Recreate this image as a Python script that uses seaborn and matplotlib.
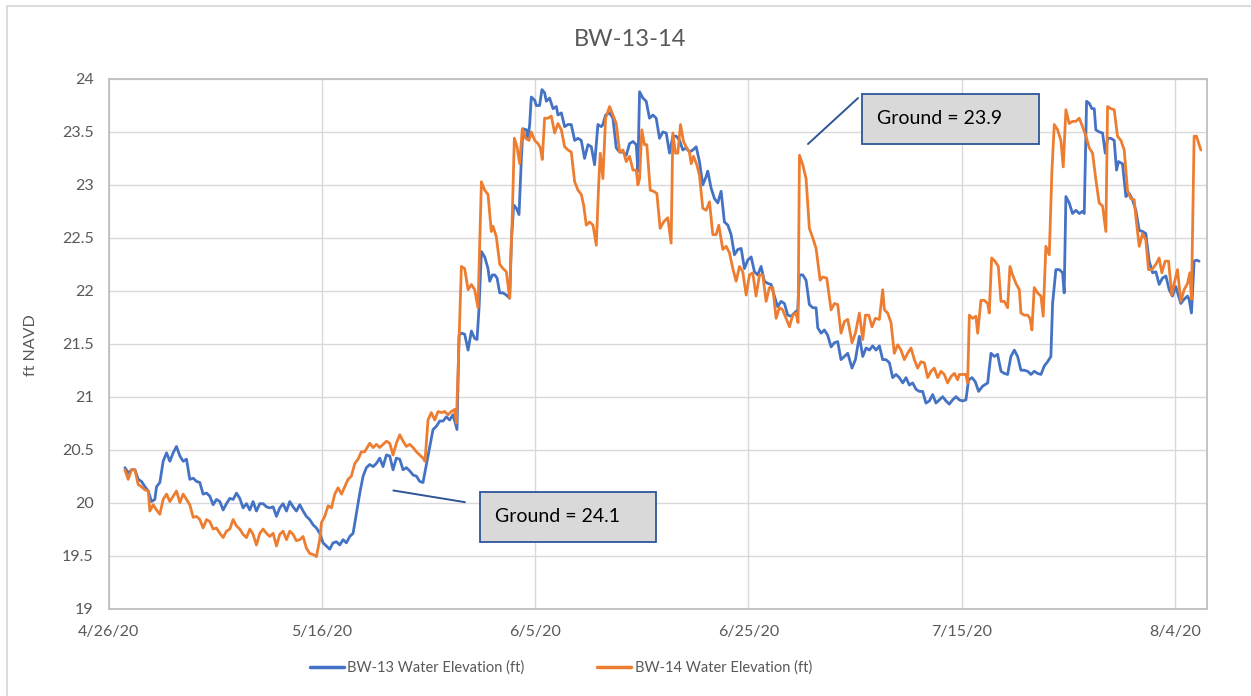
import numpy as np
import pandas as pd
import matplotlib
matplotlib.use("Agg")
import matplotlib.pyplot as plt
import matplotlib.dates as mdates
from matplotlib.ticker import FuncFormatter, MultipleLocator
from matplotlib.patches import Rectangle
from matplotlib.lines import Line2D
import seaborn as sns

# ---------------- data (days since 4/26/2020, ft NAVD) ----------------
start_date = "2020-04-26"

bw13_day = [1.5, 1.81, 2.12, 2.44, 2.75, 3.06, 3.38, 3.69, 4.0, 4.31, 4.47, 4.78, 5.09, 5.41, 5.72, 6.03, 6.34, 6.66, 6.97, 7.28,
            7.59, 7.91, 8.22, 8.53, 8.84, 9.16, 9.47, 9.78, 10.09, 10.41, 10.72, 11.03, 11.34, 11.66, 11.97, 12.28, 12.59, 12.91, 13.22, 13.53,
            13.84, 14.16, 14.47, 14.78, 15.09, 15.41, 15.72, 16.03, 16.34, 16.66, 16.97, 17.28, 17.59, 17.91, 18.22, 18.53, 18.84, 19.16, 19.47, 19.78,
            20.09, 20.41, 20.72, 21.03, 21.35, 21.66, 21.97, 22.28, 22.6, 22.91, 23.22, 23.54, 23.85, 24.16, 24.47, 24.79, 25.1, 25.41, 25.72, 26.04,
            26.35, 26.66, 26.97, 27.29, 27.6, 27.91, 28.22, 28.54, 28.85, 29.16, 29.47, 29.79, 30.1, 30.41, 30.72, 31.04, 31.35, 31.66, 31.97, 32.29,
            32.66, 32.85, 33.07, 33.38, 33.7, 34.01, 34.32, 34.54, 34.73, 34.95, 35.26, 35.57, 35.73, 35.98, 36.2, 36.42, 36.67, 36.98, 37.29, 37.6,
            37.76, 37.98, 38.23, 38.48, 38.7, 38.85, 39.17, 39.32, 39.48, 39.63, 39.95, 40.1, 40.41, 40.63, 40.88, 41.04, 41.35, 41.67, 41.98, 42.13,
            42.45, 42.76, 43.07, 43.38, 43.7, 44.01, 44.32, 44.63, 44.95, 45.26, 45.57, 45.88, 46.2, 46.35, 46.6, 46.98, 47.29, 47.6, 47.92, 48.23,
            48.54, 48.85, 49.17, 49.48, 49.63, 49.79, 50.1, 50.41, 50.72, 51.04, 51.35, 51.66, 51.97, 52.29, 52.6, 52.91, 53.22, 53.54, 53.85, 54.16,
            54.47, 54.79, 55.1, 55.41, 55.72, 56.04, 56.19, 56.5, 56.82, 57.13, 57.44, 57.75, 58.07, 58.38, 58.69, 59.0, 59.32, 59.63, 59.94, 60.26,
            60.57, 60.88, 61.19, 61.5, 61.82, 62.13, 62.44, 62.75, 63.07, 63.38, 63.69, 64.0, 64.32, 64.63, 64.79, 65.1, 65.41, 65.72, 66.04, 66.35,
            66.51, 66.82, 67.13, 67.44, 67.76, 68.07, 68.38, 68.69, 69.01, 69.32, 69.72, 70.04, 70.41, 70.73, 71.04, 71.35, 71.66, 71.98, 72.29, 72.6,
            72.91, 73.23, 73.54, 73.85, 74.16, 74.48, 74.79, 75.1, 75.41, 75.73, 76.04, 76.35, 76.66, 76.98, 77.29, 77.6, 77.91, 78.23, 78.54, 78.85,
            79.16, 79.48, 79.79, 80.1, 80.41, 80.66, 80.98, 81.29, 81.6, 81.98, 82.45, 82.76, 83.07, 83.38, 83.7, 84.01, 84.32, 84.63, 84.95, 85.26,
            85.57, 85.88, 86.2, 86.51, 86.82, 87.13, 87.45, 87.76, 88.07, 88.38, 88.54, 88.85, 89.17, 89.48, 89.63, 89.79, 90.1, 90.41, 90.73, 91.04,
            91.35, 91.51, 91.73, 91.98, 92.23, 92.45, 92.6, 92.91, 93.23, 93.48, 93.7, 94.01, 94.32, 94.54, 94.73, 95.1, 95.42, 95.73, 96.04, 96.35,
            96.67, 96.98, 97.29, 97.6, 97.92, 98.23, 98.54, 98.85, 99.17, 99.48, 99.79, 100.1, 100.57, 100.88, 101.2, 101.35, 101.57, 101.82, 102.04, 102.29]
bw13_ft = [20.33, 20.28, 20.31, 20.31, 20.22, 20.20, 20.15, 20.11, 20.01, 20.03, 20.15, 20.19, 20.39, 20.47, 20.39, 20.47, 20.53, 20.44, 20.39, 20.41,
           20.22, 20.23, 20.20, 20.19, 20.08, 20.09, 20.06, 19.98, 20.03, 20.01, 19.93, 19.99, 20.04, 20.03, 20.09, 20.04, 19.95, 19.99, 19.93, 20.01,
           19.92, 19.99, 19.99, 19.96, 19.95, 19.96, 19.87, 19.95, 19.99, 19.92, 20.01, 19.96, 19.92, 19.98, 19.92, 19.87, 19.84, 19.79, 19.76, 19.71,
           19.62, 19.59, 19.56, 19.62, 19.63, 19.60, 19.65, 19.62, 19.68, 19.71, 19.90, 20.09, 20.25, 20.33, 20.36, 20.34, 20.37, 20.42, 20.34, 20.45,
           20.44, 20.31, 20.42, 20.41, 20.31, 20.33, 20.30, 20.26, 20.25, 20.20, 20.19, 20.36, 20.53, 20.69, 20.72, 20.77, 20.77, 20.81, 20.78, 20.83,
           20.69, 21.58, 21.60, 21.59, 21.44, 21.62, 21.55, 21.54, 21.84, 22.37, 22.32, 22.21, 22.09, 22.15, 22.15, 22.12, 21.98, 21.98, 21.96, 21.93,
           22.47, 22.81, 22.78, 22.72, 23.25, 23.53, 23.52, 23.44, 23.57, 23.83, 23.80, 23.75, 23.75, 23.90, 23.87, 23.79, 23.82, 23.72, 23.74, 23.66,
           23.68, 23.55, 23.57, 23.57, 23.42, 23.44, 23.42, 23.25, 23.38, 23.36, 23.19, 23.57, 23.55, 23.57, 23.66, 23.68, 23.63, 23.35, 23.31, 23.31,
           23.28, 23.39, 23.41, 23.38, 23.13, 23.88, 23.82, 23.79, 23.63, 23.66, 23.63, 23.44, 23.50, 23.49, 23.30, 23.46, 23.46, 23.42, 23.33, 23.35,
           23.31, 23.33, 23.36, 23.22, 23.00, 23.08, 23.13, 22.97, 22.87, 22.83, 22.94, 22.65, 22.62, 22.53, 22.34, 22.39, 22.40, 22.21, 22.29, 22.32,
           22.18, 22.15, 22.23, 22.09, 22.07, 22.06, 21.95, 21.85, 21.90, 21.88, 21.77, 21.76, 21.79, 21.82, 22.15, 22.15, 22.10, 21.87, 21.84, 21.84,
           21.65, 21.60, 21.63, 21.58, 21.47, 21.51, 21.52, 21.35, 21.38, 21.41, 21.27, 21.35, 21.57, 21.38, 21.46, 21.44, 21.48, 21.44, 21.48, 21.35,
           21.35, 21.32, 21.18, 21.21, 21.18, 21.13, 21.18, 21.11, 21.13, 21.07, 21.05, 21.05, 20.94, 20.96, 21.02, 20.94, 20.97, 21.00, 20.96, 20.93,
           20.97, 21.00, 20.97, 20.96, 20.97, 21.16, 21.18, 21.14, 21.05, 21.10, 21.13, 21.41, 21.38, 21.40, 21.24, 21.22, 21.21, 21.38, 21.44, 21.38,
           21.25, 21.25, 21.24, 21.21, 21.24, 21.22, 21.21, 21.29, 21.33, 21.38, 21.88, 22.20, 22.20, 22.17, 21.98, 22.89, 22.83, 22.73, 22.76, 22.73,
           22.75, 22.73, 23.79, 23.77, 23.72, 23.72, 23.52, 23.50, 23.49, 23.30, 23.44, 23.44, 23.42, 23.14, 23.22, 23.20, 22.89, 22.92, 22.86, 22.76,
           22.57, 22.56, 22.54, 22.28, 22.17, 22.18, 22.06, 22.12, 22.14, 22.01, 21.95, 22.04, 21.88, 21.92, 21.95, 21.92, 21.79, 22.28, 22.29, 22.28]

bw14_day = [1.5, 1.81, 2.12, 2.44, 2.75, 3.06, 3.38, 3.69, 3.84, 4.16, 4.47, 4.78, 5.09, 5.41, 5.72, 6.03, 6.34, 6.66, 6.97, 7.28,
            7.59, 7.91, 8.22, 8.53, 8.84, 9.16, 9.47, 9.78, 10.09, 10.41, 10.72, 11.03, 11.34, 11.66, 11.97, 12.28, 12.59, 12.91, 13.22, 13.53,
            13.84, 14.16, 14.47, 14.78, 15.09, 15.41, 15.72, 16.03, 16.34, 16.66, 16.97, 17.28, 17.59, 17.91, 18.22, 18.53, 18.84, 19.16, 19.47, 19.78,
            19.94, 20.25, 20.57, 20.88, 21.19, 21.5, 21.82, 22.13, 22.44, 22.75, 23.07, 23.38, 23.69, 24.0, 24.47, 24.79, 25.1, 25.41, 25.72, 26.04,
            26.35, 26.66, 26.97, 27.29, 27.6, 27.91, 28.22, 28.54, 28.85, 29.16, 29.47, 29.66, 29.94, 30.25, 30.57, 30.88, 31.19, 31.5, 31.82, 32.13,
            32.44, 32.6, 32.85, 33.07, 33.38, 33.7, 34.01, 34.32, 34.63, 34.95, 35.26, 35.57, 35.88, 36.04, 36.35, 36.67, 36.98, 37.29, 37.6, 37.85,
            38.04, 38.29, 38.54, 38.79, 39.1, 39.42, 39.63, 39.95, 40.26, 40.48, 40.66, 40.88, 41.2, 41.51, 41.82, 42.13, 42.45, 42.76, 43.07, 43.38,
            43.7, 44.01, 44.32, 44.54, 44.79, 45.1, 45.42, 45.73, 45.95, 46.1, 46.35, 46.6, 46.98, 47.29, 47.6, 47.92, 48.23, 48.54, 48.85, 49.17,
            49.48, 49.63, 49.79, 50.0, 50.25, 50.47, 50.79, 51.1, 51.41, 51.72, 52.04, 52.44, 52.75, 52.91, 53.16, 53.38, 53.63, 53.91, 54.16, 54.47,
            54.63, 54.85, 55.16, 55.41, 55.72, 56.04, 56.35, 56.66, 56.97, 57.22, 57.6, 57.91, 58.22, 58.54, 58.85, 59.16, 59.47, 59.79, 60.1, 60.41,
            60.72, 61.04, 61.35, 61.66, 61.97, 62.29, 62.6, 62.91, 63.22, 63.54, 63.85, 64.16, 64.47, 64.66, 64.79, 65.1, 65.41, 65.72, 66.04, 66.35,
            66.73, 66.98, 67.35, 67.76, 68.07, 68.38, 68.69, 69.01, 69.32, 69.72, 70.04, 70.41, 70.73, 70.98, 71.29, 71.6, 71.91, 72.29, 72.6, 72.76,
            73.07, 73.38, 73.69, 74.01, 74.32, 74.63, 74.94, 75.26, 75.57, 75.88, 76.19, 76.51, 76.82, 77.13, 77.44, 77.76, 78.07, 78.38, 78.69, 79.01,
            79.32, 79.63, 79.79, 80.1, 80.41, 80.57, 80.73, 81.04, 81.35, 81.51, 81.82, 82.13, 82.45, 82.6, 82.82, 83.13, 83.45, 83.7, 84.01, 84.32,
            84.54, 84.79, 85.1, 85.42, 85.57, 85.88, 86.2, 86.42, 86.6, 86.82, 87.13, 87.45, 87.66, 87.91, 88.23, 88.48, 88.7, 89.01, 89.32, 89.54,
            89.79, 90.1, 90.41, 90.73, 91.04, 91.35, 91.67, 91.98, 92.29, 92.6, 92.91, 93.23, 93.54, 93.7, 94.01, 94.32, 94.63, 94.95, 95.26, 95.57,
            95.88, 96.2, 96.35, 96.67, 96.98, 97.29, 97.54, 97.85, 98.23, 98.54, 98.79, 99.1, 99.42, 99.73, 99.95, 100.26, 100.57, 100.88, 101.2, 101.42,
            101.57, 101.82, 102.04, 102.29, 102.45]
bw14_ft = [20.31, 20.22, 20.31, 20.31, 20.17, 20.15, 20.12, 20.11, 19.92, 19.98, 19.93, 19.89, 20.03, 20.08, 20.01, 20.06, 20.11, 20.00, 20.08, 20.03,
           19.98, 19.86, 19.87, 19.84, 19.76, 19.84, 19.82, 19.75, 19.76, 19.71, 19.67, 19.73, 19.75, 19.84, 19.78, 19.75, 19.70, 19.67, 19.75, 19.70,
           19.60, 19.71, 19.75, 19.71, 19.68, 19.71, 19.59, 19.70, 19.73, 19.65, 19.73, 19.70, 19.64, 19.65, 19.68, 19.57, 19.52, 19.51, 19.49, 19.65,
           19.81, 19.87, 19.97, 19.95, 20.08, 20.14, 20.08, 20.15, 20.22, 20.25, 20.37, 20.41, 20.48, 20.48, 20.56, 20.52, 20.55, 20.52, 20.55, 20.58,
           20.56, 20.45, 20.56, 20.64, 20.58, 20.53, 20.55, 20.52, 20.48, 20.45, 20.42, 20.39, 20.78, 20.85, 20.78, 20.86, 20.85, 20.86, 20.83, 20.86,
           20.88, 20.75, 21.52, 22.23, 22.21, 22.01, 22.06, 22.01, 21.84, 23.03, 22.95, 22.91, 22.56, 22.61, 22.51, 22.25, 22.21, 22.18, 21.93, 22.72,
           23.44, 23.36, 23.20, 23.53, 23.44, 23.42, 23.50, 23.42, 23.39, 23.35, 23.24, 23.63, 23.63, 23.65, 23.49, 23.58, 23.52, 23.36, 23.33, 23.31,
           23.03, 22.95, 22.91, 22.81, 22.62, 22.65, 22.62, 22.43, 23.00, 23.30, 23.06, 23.63, 23.74, 23.66, 23.58, 23.31, 23.33, 23.22, 23.27, 23.14,
           23.14, 23.00, 23.06, 23.52, 23.38, 23.38, 22.95, 22.94, 22.92, 22.59, 22.65, 22.69, 22.45, 23.49, 23.30, 23.30, 23.57, 23.41, 23.36, 23.31,
           23.20, 23.27, 23.19, 23.09, 22.78, 22.76, 22.84, 22.53, 22.53, 22.62, 22.39, 22.42, 22.36, 22.21, 22.09, 22.23, 22.18, 21.96, 22.15, 22.17,
           21.95, 22.15, 22.15, 21.90, 22.03, 22.03, 21.74, 21.84, 21.82, 21.74, 21.66, 21.77, 21.79, 21.70, 23.28, 23.19, 23.06, 22.59, 22.50, 22.40,
           22.10, 22.13, 22.12, 21.82, 21.88, 21.87, 21.60, 21.71, 21.73, 21.51, 21.60, 21.79, 21.54, 21.77, 21.77, 21.66, 21.74, 21.73, 22.01, 21.82,
           21.79, 21.70, 21.41, 21.49, 21.44, 21.35, 21.41, 21.46, 21.35, 21.27, 21.33, 21.32, 21.18, 21.24, 21.27, 21.18, 21.24, 21.21, 21.13, 21.19,
           21.22, 21.16, 21.21, 21.21, 21.21, 21.13, 21.77, 21.74, 21.76, 21.60, 21.91, 21.91, 21.88, 21.79, 22.31, 22.28, 22.23, 21.90, 21.90, 21.84,
           22.23, 22.15, 22.07, 22.01, 21.79, 21.77, 21.77, 21.74, 21.63, 22.03, 21.98, 21.95, 21.76, 22.42, 22.34, 23.14, 23.57, 23.52, 23.42, 23.17,
           23.71, 23.58, 23.60, 23.60, 23.63, 23.55, 23.46, 23.35, 23.30, 23.05, 22.83, 22.80, 22.56, 23.74, 23.72, 23.71, 23.46, 23.42, 23.33, 22.95,
           22.87, 22.86, 22.70, 22.42, 22.54, 22.48, 22.20, 22.20, 22.25, 22.31, 22.17, 22.28, 22.28, 21.96, 22.07, 22.20, 21.90, 22.01, 22.07, 22.17,
           21.92, 23.46, 23.46, 23.38, 23.33]

series_names = ["BW-13 Water Elevation (ft)", "BW-14 Water Elevation (ft)"]
series_colors = ["#4472C4", "#ED7D31"]
title_text = "BW-13-14"
ylabel_text = "ft NAVD"
annotations = ["Ground = 24.1", "Ground = 23.9"]

# ---------------- build long-form table ----------------
base = pd.Timestamp(start_date)
df = pd.concat([
    pd.DataFrame({"date": base + pd.to_timedelta(bw13_day, unit="D"), "value": bw13_ft, "series": series_names[0]}),
    pd.DataFrame({"date": base + pd.to_timedelta(bw14_day, unit="D"), "value": bw14_ft, "series": series_names[1]}),
], ignore_index=True)

# ---------------- style ----------------
sns.set_theme(style="white")
plt.rcParams["font.family"] = ["Lato", "DejaVu Sans"]
grey_text = "#595959"

W, H = 1251, 696
fig = plt.figure(figsize=(W / 100, H / 100), dpi=100)
ax = fig.add_axes([108.9 / W, 1 - 608.5 / H, 1097.8 / W, 529.5 / H])

sns.lineplot(data=df, x="date", y="value", hue="series", palette=series_colors,
             estimator=None, sort=False, linewidth=2.0, ax=ax, legend=False)

# axes limits & ticks
ax.set_xlim(base, base + pd.Timedelta(days=103))
ax.set_ylim(19, 24)
ticks = [base + pd.Timedelta(days=20 * k) for k in range(6)]
ax.set_xticks(ticks)
ax.xaxis.set_major_formatter(FuncFormatter(
    lambda v, p: (lambda d: f"{d.month}/{d.day}/{d.strftime('%y')}")(mdates.num2date(v))))
ax.yaxis.set_major_locator(MultipleLocator(0.5))
ax.yaxis.set_major_formatter(FuncFormatter(lambda v, p: f"{v:g}"))
ax.tick_params(axis="both", length=0, labelsize=11.5, labelcolor=grey_text)
ax.tick_params(axis="y", pad=11)
ax.tick_params(axis="x", pad=12)

ax.grid(True, color="#D9D9D9", linewidth=1.0)
ax.set_axisbelow(True)
for s in ax.spines.values():
    s.set_color("#BFBFBF")
    s.set_linewidth(1.3)

ax.set_xlabel("")
ax.set_ylabel(ylabel_text, fontsize=11.5, color=grey_text)
ax.yaxis.set_label_coords((38 - 108.9) / 1097.8, (608.5 - 345) / 529.5)

fig.text(630 / W, 1 - 40 / H, title_text, ha="center", va="center", fontsize=17, color=grey_text)

# annotation boxes (axes-fraction placement)
box_color = "#2F5597"
ax.add_line(Line2D([0.2591, 0.3243], [0.2229, 0.2008], transform=ax.transAxes, color=box_color, lw=1.4))
ax.add_line(Line2D([0.6368, 0.6824], [0.8772, 0.9640], transform=ax.transAxes, color=box_color, lw=1.4))
for (x0, x1, y0, y1), txt in zip([(0.338, 0.498, 0.126, 0.2206), (0.686, 0.847, 0.877, 0.972)], annotations):
    ax.add_patch(Rectangle((x0, y0), x1 - x0, y1 - y0, transform=ax.transAxes,
                           facecolor="#D9D9D9", edgecolor=box_color, lw=1.3, zorder=5))
    ax.text(x0 + 0.014, (y0 + y1) / 2, txt, transform=ax.transAxes, ha="left", va="center",
            fontsize=14, color="black", zorder=6)

# legend
handles = [Line2D([], [], color=c, lw=2.5) for c in series_colors]
fig.legend(handles, series_names, loc="center", bbox_to_anchor=(561 / W, 1 - 668 / H),
           ncol=2, frameon=False, fontsize=10.5, labelcolor=grey_text,
           handlelength=2.3, handletextpad=0.25, columnspacing=5.0)

# outer chart border
fig.patches.append(Rectangle((6.7 / W, -0.1), 1.2, (1 - 5.7 / H) + 0.1, transform=fig.transFigure,
                             facecolor="none", edgecolor="#D9D9D9", lw=1.3))

fig.savefig("out.png", dpi=100)
